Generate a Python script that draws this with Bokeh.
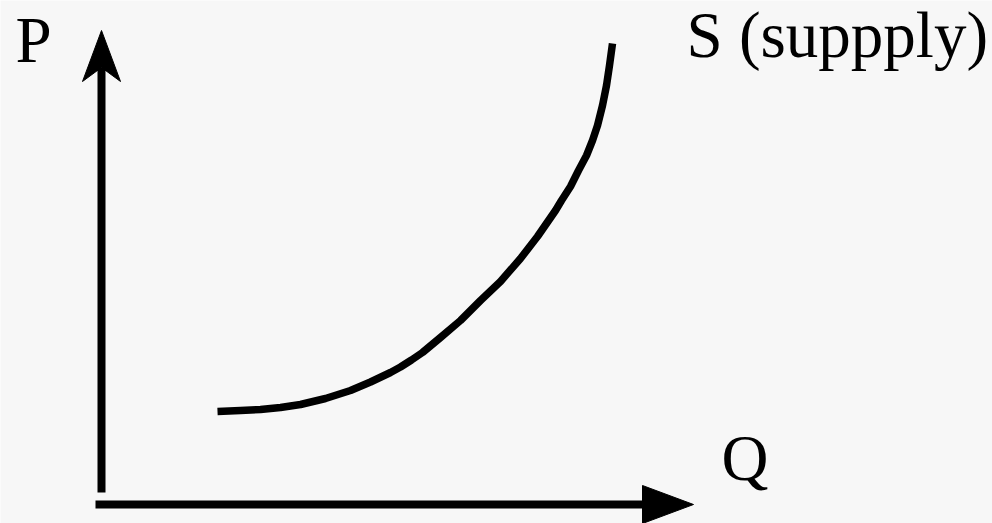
from bokeh.plotting import figure
from bokeh.models import Range1d
from bokeh.core.properties import value
from bokeh.embed import file_html
from bokeh.resources import INLINE

# Supply curve (Q, P), in page pixel units (y grows downward)
supply_q = [217, 240, 260, 280, 300, 325, 350, 370, 390, 400, 411, 422, 440, 460, 480, 500,
            520, 537, 555, 561, 570, 578, 586, 592, 597, 602, 606, 609, 612]
supply_p = [411, 410, 409, 407, 404, 398, 390, 381.5, 372, 366.5, 359.5, 352, 337, 320, 300, 281,
            258, 236, 210, 200, 186, 170, 155, 140, 125, 105, 85, 65, 43]

# Axis geometry (origin and arrow tips)
origin_x, origin_y = 101, 504
p_axis_bottom = 492
p_axis_tip = 30
q_axis_start = 95
q_axis_tip = 693

# Labels
labels = ["P", "S (suppply)", "Q"]
label_x = [15, 686, 721]
label_baseline = [64, 59, 482]

FONT_PX = 65
BASELINE_FIX = 0.375 * FONT_PX   # renderer places "alphabetic" text lower than its anchor

BG = "#f7f7f7"
W, H = 992, 523

p = figure(width=W, height=H, output_backend="svg", toolbar_location=None,
           x_range=Range1d(0, W), y_range=Range1d(H, 0),
           min_border=0, background_fill_color=BG, border_fill_color=BG,
           outline_line_color=None)
p.axis.visible = False
p.grid.visible = False

# vertical (P) axis: shaft + notched arrowhead
head_len_v, head_half_v, notch_v = 51, 19, 37
p.line([origin_x, origin_x], [p_axis_bottom, p_axis_tip + notch_v], line_width=8, line_color="black")
p.patch([origin_x, origin_x + head_half_v, origin_x, origin_x - head_half_v],
        [p_axis_tip, p_axis_tip + head_len_v, p_axis_tip + notch_v, p_axis_tip + head_len_v],
        fill_color="black", line_color="black", line_width=1)

# horizontal (Q) axis: shaft + triangular arrowhead
head_len_h, head_half_h = 51, 19
p.line([q_axis_start, q_axis_tip - head_len_h], [origin_y, origin_y], line_width=8, line_color="black")
p.patch([q_axis_tip, q_axis_tip - head_len_h, q_axis_tip - head_len_h],
        [origin_y, origin_y - head_half_h, origin_y + head_half_h],
        fill_color="black", line_color="black", line_width=1)

# supply curve
p.line(supply_q, supply_p, line_width=7.5, line_color="black", line_join="round")

# labels
p.text(x=label_x, y=[b - BASELINE_FIX for b in label_baseline], text=labels,
       text_font=value("Liberation Serif"), text_font_size="%dpx" % FONT_PX,
       text_color="black", text_baseline="alphabetic", text_align="left")

html = file_html(p, INLINE)
html = html.replace("<body>", '<body style="background:%s;">' % BG, 1)
open("out.html", "w").write(html)
